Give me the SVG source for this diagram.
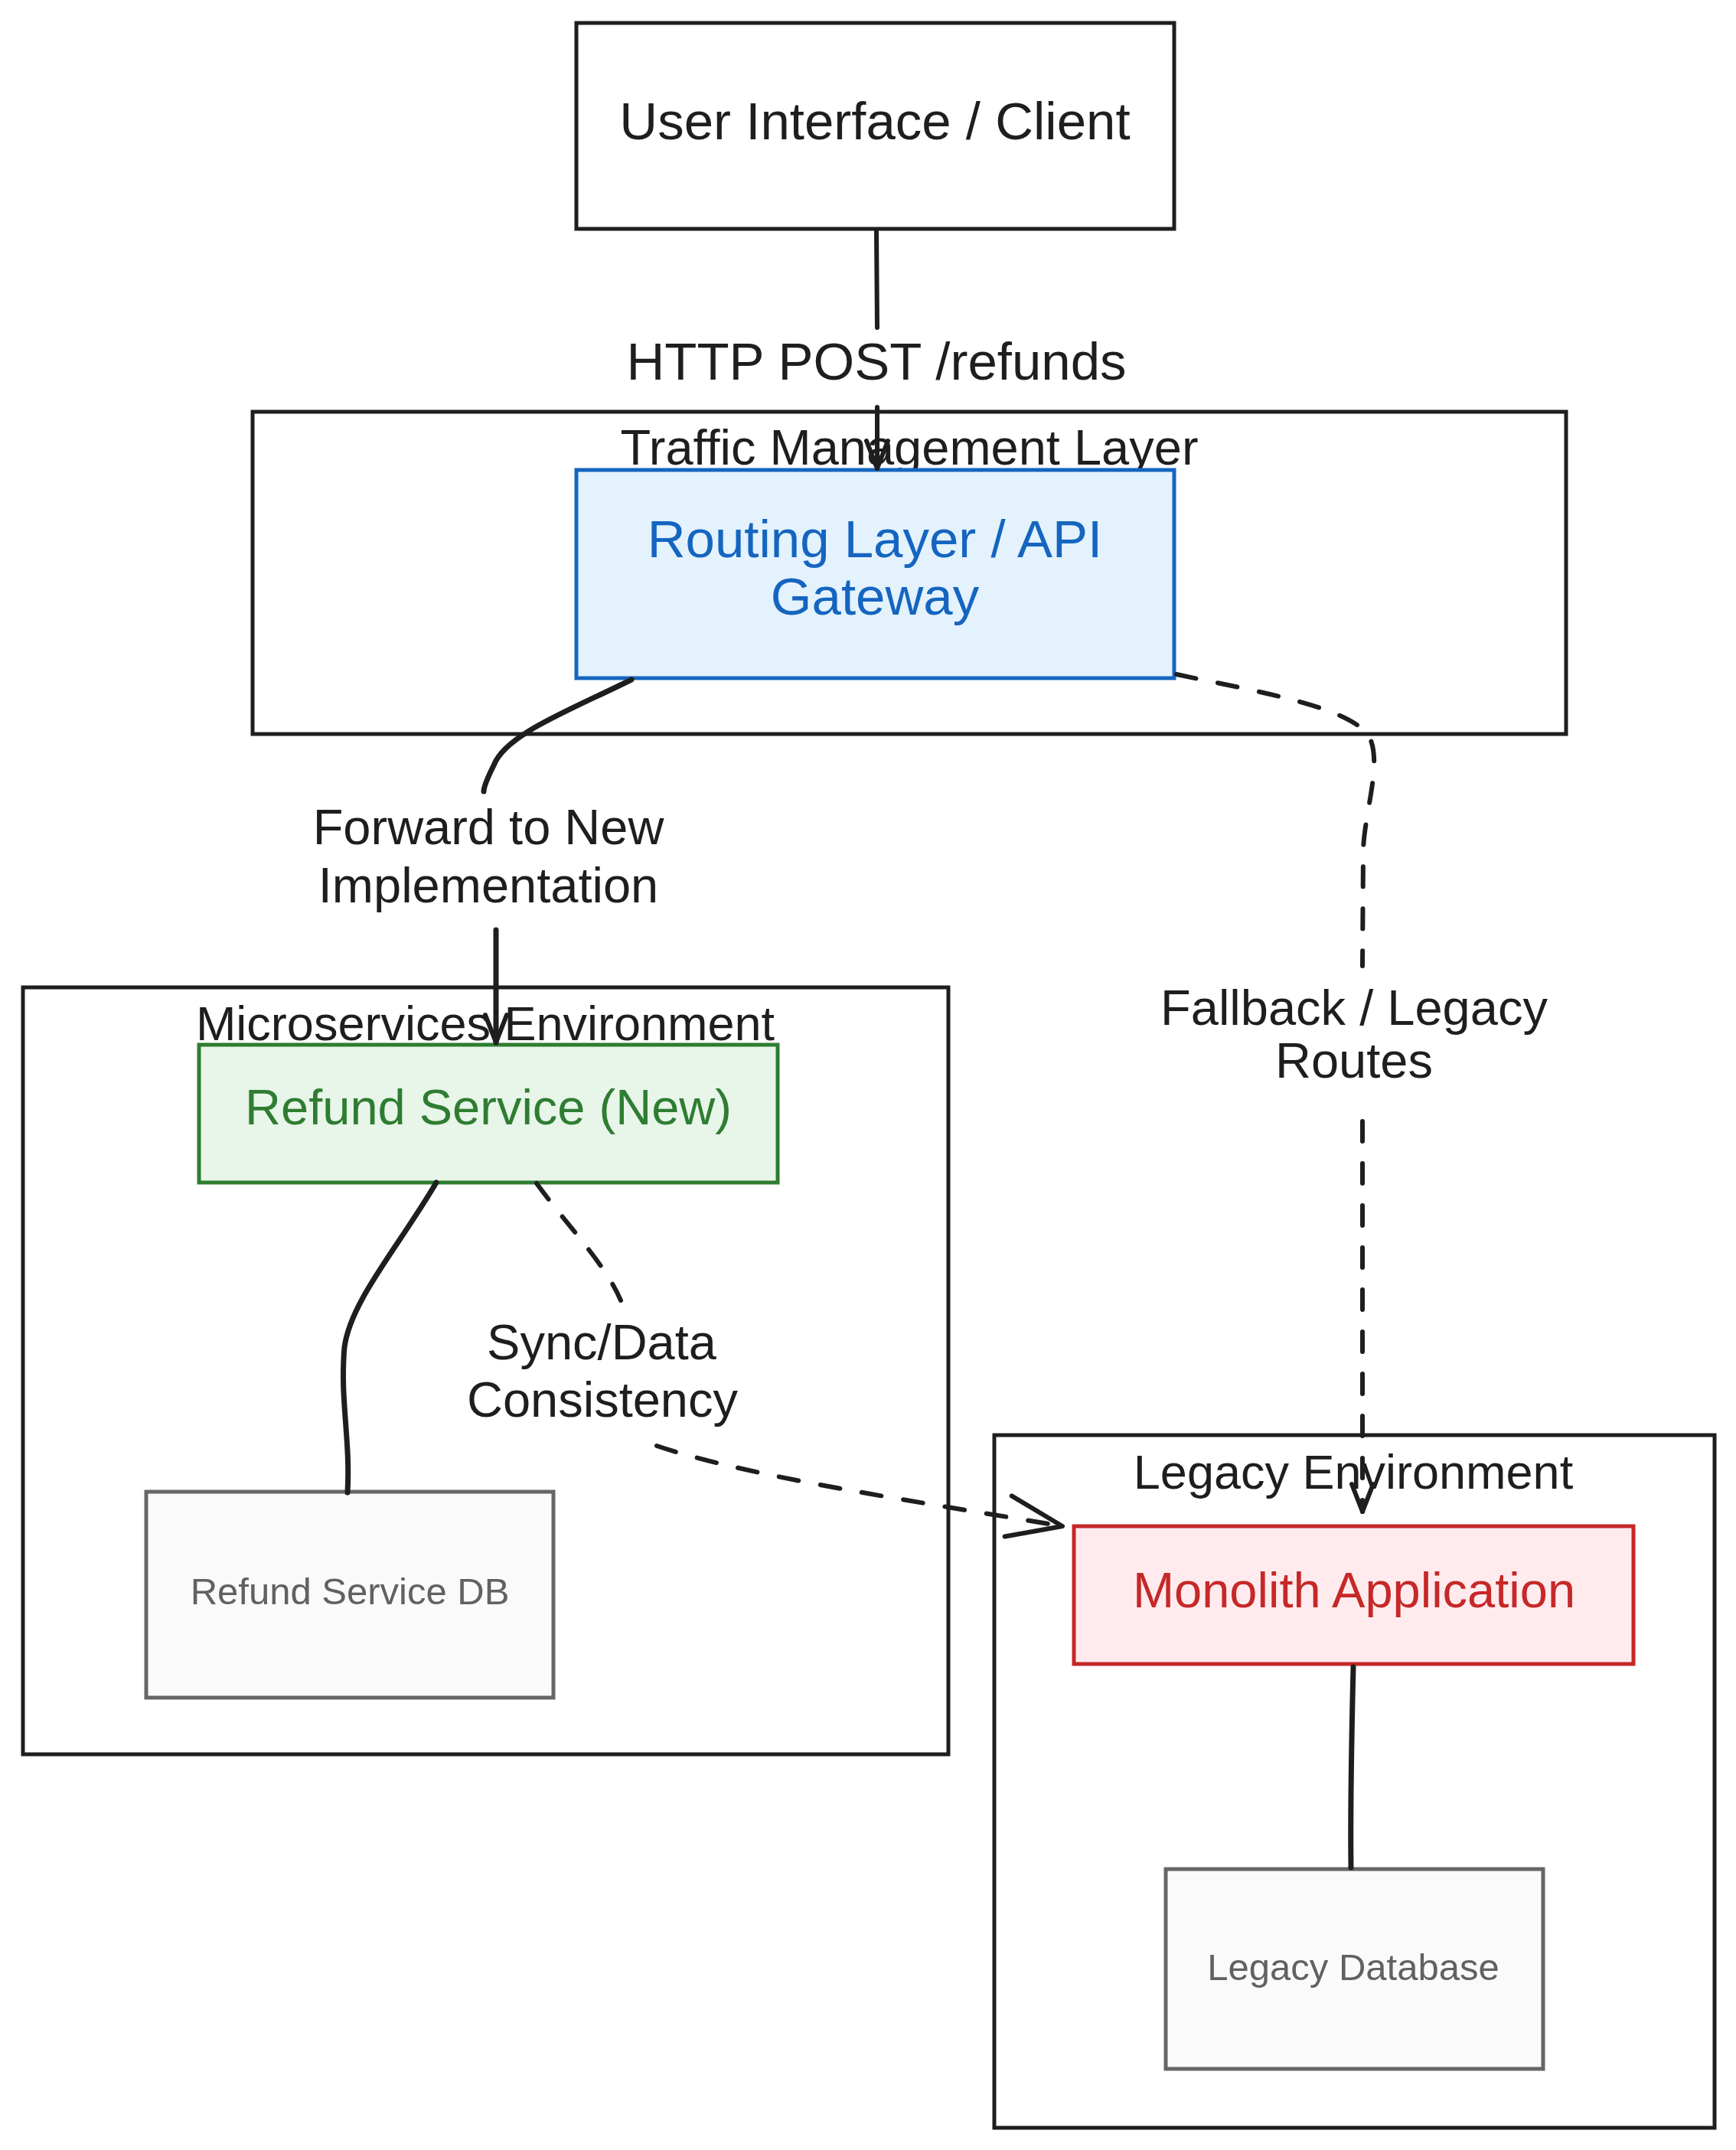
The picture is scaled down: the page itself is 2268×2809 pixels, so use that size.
<svg xmlns="http://www.w3.org/2000/svg" width="2268" height="2809" viewBox="0 0 2268 2809">
<style>
text{font-family:"Liberation Sans","Noto Sans",sans-serif;text-anchor:middle;fill:#1e1e1e}
.box{fill:#ffffff;stroke:#1e1e1e;stroke-width:5}
.cont{fill:none;stroke:#1e1e1e;stroke-width:5}
.t69{font-size:69px}
.t65{font-size:65px}
.t63{font-size:63px}
.t49{font-size:49px;fill:#616161}
.con{fill:none;stroke:#1e1e1e;stroke-width:6;stroke-linecap:round}
.dash{stroke-dasharray:26 29}
.ah{fill:none;stroke:#1e1e1e;stroke-width:6;stroke-linecap:round;stroke-linejoin:round;stroke-dasharray:none}
</style>
<defs>
<marker id="arrS" markerUnits="userSpaceOnUse" markerWidth="80" markerHeight="80" viewBox="-60 -40 80 80" refX="0" refY="0" orient="auto">
<path class="ah" d="M-36,-14 L0,0 L-36,14"/>
</marker>
<marker id="arrL" markerUnits="userSpaceOnUse" markerWidth="120" markerHeight="120" viewBox="-90 -60 120 120" refX="0" refY="0" orient="auto">
<path class="ah" d="M-72,-28 L0,0 L-72,26"/>
</marker>
</defs>
<rect width="2268" height="2809" fill="#ffffff"/>
<g id="traffic-layer">
<rect class="cont" x="330" y="538" width="1716" height="421"/>
<text class="t65" x="1188" y="607">Traffic Management Layer</text>
</g>
<g id="microservices-env">
<rect class="cont" x="30" y="1290" width="1209" height="1002"/>
<text class="t63" x="634" y="1359">Microservices Environment</text>
</g>
<g id="legacy-env">
<rect class="cont" x="1299" y="1875" width="941" height="905"/>
<text class="t63" x="1768" y="1945">Legacy Environment</text>
</g>
<g id="client">
<rect class="box" x="753" y="30" width="781" height="269"/>
<text class="t69" x="1143" y="182">User Interface / Client</text>
</g>
<g id="gateway">
<rect x="753" y="614" width="781" height="272" fill="#e3f2fd" stroke="#1565c0" stroke-width="5"/>
<text class="t69" x="1143" y="728" style="fill:#1565c0">Routing Layer / API</text>
<text class="t69" x="1143" y="803" style="fill:#1565c0">Gateway</text>
</g>
<g id="refund-service">
<rect x="260" y="1365" width="756" height="180" fill="#e8f5e9" stroke="#2e7d32" stroke-width="5"/>
<text class="t65" x="638" y="1469" style="fill:#2e7d32">Refund Service (New)</text>
</g>
<g id="refund-db">
<rect x="191" y="1949" width="532" height="269" fill="#fafafa" stroke="#666666" stroke-width="5"/>
<text class="t49" x="457" y="2096">Refund Service DB</text>
</g>
<g id="monolith">
<rect x="1403" y="1994" width="731" height="180" fill="#ffebee" stroke="#c62828" stroke-width="5"/>
<text class="t65" x="1769" y="2100" style="fill:#c62828">Monolith Application</text>
</g>
<g id="legacy-db">
<rect x="1523" y="2442" width="493" height="261" fill="#fafafa" stroke="#666666" stroke-width="5"/>
<text class="t49" x="1768" y="2587">Legacy Database</text>
</g>
<g id="connectors">
<path class="con" d="M1145,302 L1146,428 M1146,532 L1146,612" marker-end="url(#arrS)"/>
<text class="t69" x="1145" y="496">HTTP POST /refunds</text>
<path class="con" style="stroke-width:7" d="M825,888 C740,930 660,960 645,1000 C635,1020 632,1030 632,1034 M648,1215 L648,1362" marker-end="url(#arrS)"/>
<text class="t65" x="638" y="1103">Forward to New</text>
<text class="t65" x="638" y="1179">Implementation</text>
<path class="con dash" d="M1537,881 C1650,905 1770,925 1790,965 C1805,1000 1783,1060 1781,1110 L1780,1262 M1780,1465 L1780,1975" marker-end="url(#arrS)"/>
<text class="t65" x="1769" y="1339">Fallback / Legacy</text>
<text class="t65" x="1769" y="1408">Routes</text>
<path class="con dash" d="M701,1546 C740,1600 790,1650 811,1699 M858,1889 C980,1930 1200,1962 1388,1994" marker-end="url(#arrL)"/>
<text class="t65" x="786" y="1776">Sync/Data</text>
<text class="t65" x="787" y="1851">Consistency</text>
<path class="con" style="stroke-width:7" d="M570,1545 C520,1630 458,1700 450,1760 C444,1830 458,1880 454,1950"/>
<path class="con" style="stroke-width:7" d="M1768,2178 C1766,2260 1764,2360 1765,2440"/>
</g>
</svg>
